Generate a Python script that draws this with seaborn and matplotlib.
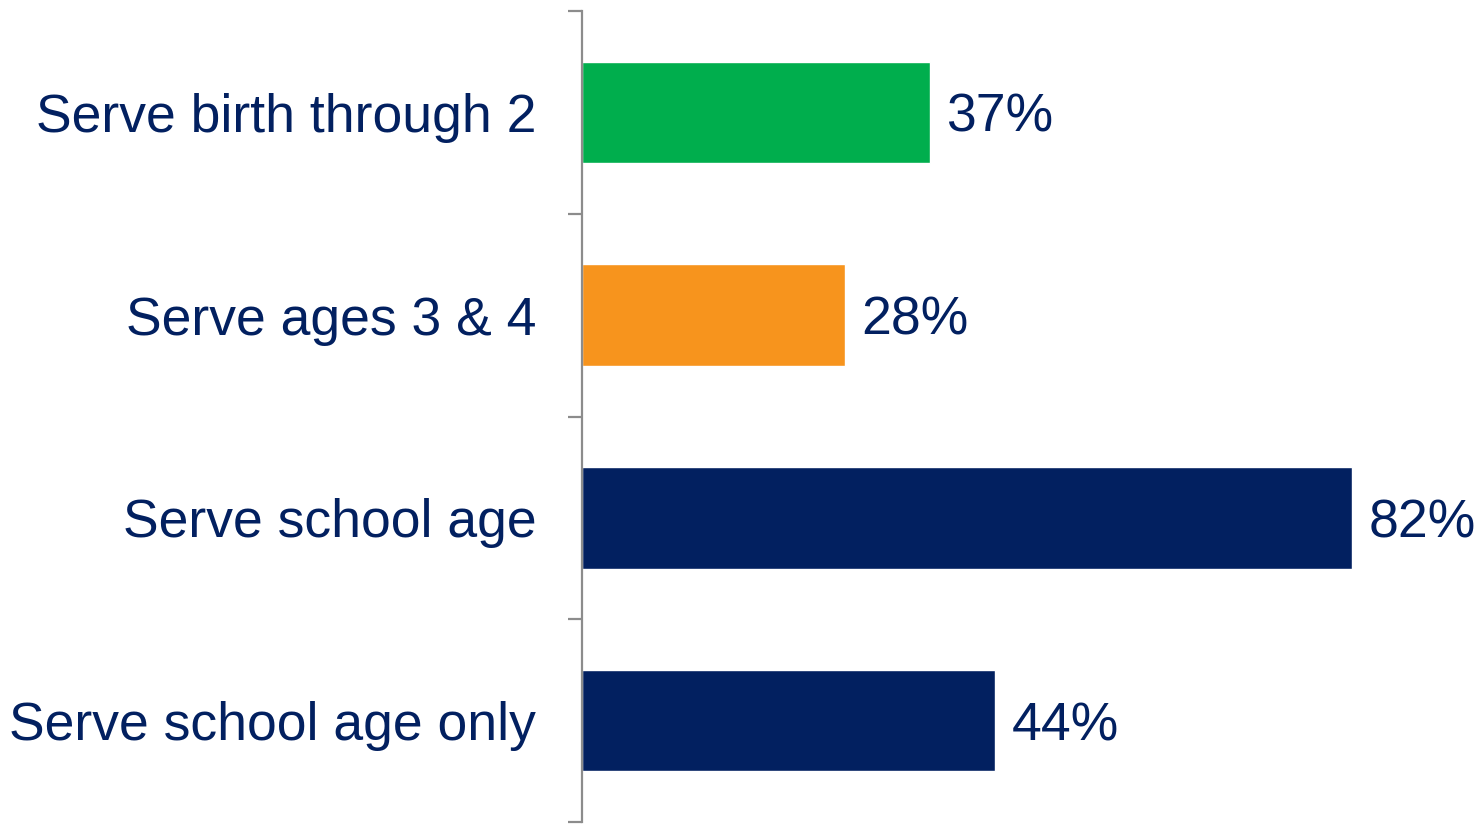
import matplotlib
matplotlib.use("Agg")
import matplotlib.pyplot as plt
import seaborn as sns
import pandas as pd
import numpy as np

categories = ["Serve birth through 2", "Serve ages 3 & 4", "Serve school age", "Serve school age only"]
values = [37, 28, 82, 44]
bar_colors = ["#00AE4D", "#F7941D", "#022060", "#022060"]
value_labels = ["37%", "28%", "82%", "44%"]

NAVY = "#022060"
GRAY = "#8C8C8C"

sns.set_theme(style="white")
plt.rcParams["font.family"] = ["Liberation Sans", "DejaVu Sans"]

df = pd.DataFrame({"category": categories, "value": values})

fig = plt.figure(figsize=(14.79, 8.25), dpi=100)
ax = fig.add_axes([582 / 1479, 3 / 825, 1 - 582 / 1479, (822 - 11) / 825])

sns.barplot(data=df, x="value", y="category", hue="category", order=categories,
            hue_order=categories, palette=bar_colors, orient="h", width=0.5,
            legend=False, ax=ax, saturation=1)

ax.set_xlim(0, 95.5)
ax.set_ylim(len(categories) - 0.5, -0.5)

for cont, lab in zip(ax.containers, value_labels):
    anns = ax.bar_label(cont, labels=[lab], padding=12, fontsize=38.5, color=NAVY)
    for a in anns:
        a.set_verticalalignment("center_baseline")

for s in ["top", "right", "bottom"]:
    ax.spines[s].set_visible(False)
ax.spines["left"].set_color(GRAY)
ax.spines["left"].set_linewidth(1.6)

ax.set_xticks([])
ax.set_xlabel("")
ax.set_ylabel("")
ax.set_yticks(range(len(categories)))
ax.set_yticklabels(categories, fontsize=38.5, color=NAVY)
ax.set_yticks(np.arange(-0.5, len(categories), 1.0), minor=True)
ax.tick_params(axis="y", which="major", length=0, pad=33)
ax.tick_params(axis="y", which="minor", length=10, width=1.6, color=GRAY, direction="out", left=True)

fig.savefig("out.png", dpi=100)
